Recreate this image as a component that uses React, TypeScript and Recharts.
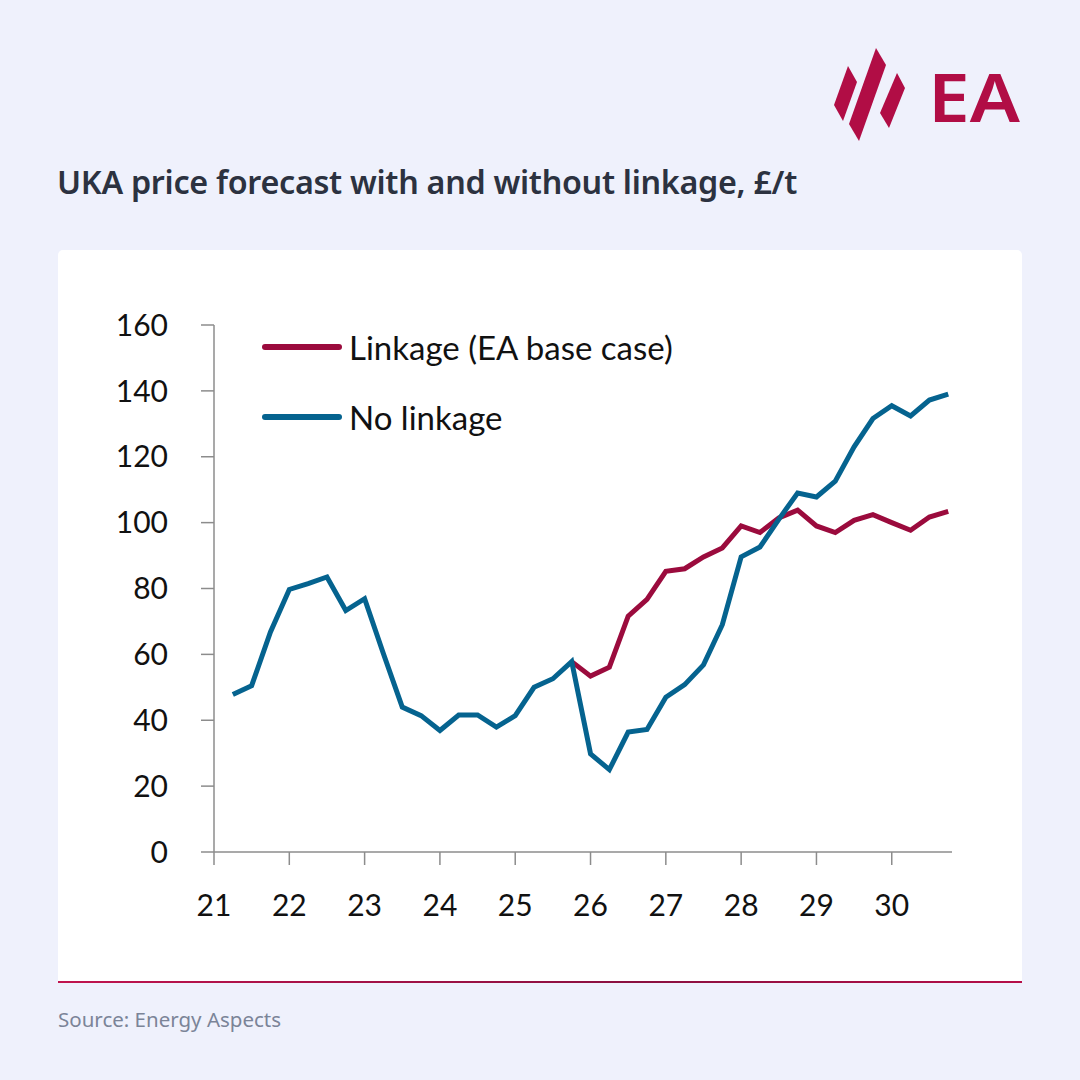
import React from "react";
import { LineChart, Line, XAxis, YAxis, Legend } from "recharts";

// quarterly points, x = year offset (21 = 2021)
const quarters = [
  21.25, 21.5, 21.75, 22, 22.25, 22.5, 22.75, 23, 23.25, 23.5, 23.75, 24, 24.25,
  24.5, 24.75, 25, 25.25, 25.5, 25.75, 26, 26.25, 26.5, 26.75, 27, 27.25, 27.5,
  27.75, 28, 28.25, 28.5, 28.75, 29, 29.25, 29.5, 29.75, 30, 30.25, 30.5, 30.75,
];

const noLinkage = [
  47.8, 50.5, 66.8, 79.7, 81.5, 83.5, 73.3, 76.9, 60.2, 44, 41.4, 36.9, 41.6,
  41.6, 37.9, 41.4, 50, 52.6, 57.8, 29.8, 25, 36.4, 37.2, 47, 50.8, 56.8, 69,
  89.6, 92.6, 101, 109, 107.8, 112.6, 123, 131.6, 135.5, 132.4, 137.2, 139,
];

// linkage scenario diverges from 25.75 onwards
const linkage = [
  null, null, null, null, null, null, null, null, null, null, null, null, null,
  null, null, null, null, null, 57.8, 53.4, 56.1, 71.6, 76.7, 85.2, 86, 89.6,
  92.3, 99, 97, 101.4, 103.8, 99, 97, 100.7, 102.4, 100, 97.7, 101.7, 103.4,
];

const xTicks = [21, 22, 23, 24, 25, 26, 27, 28, 29, 30];
const yTicks = [0, 20, 40, 60, 80, 100, 120, 140, 160];

const RED = "#9b0b3d";
const BLUE = "#05638f";
const AXIS = "#8c8c8c";
const TICK_FONT = "Lato, 'Noto Sans', sans-serif";

const data = quarters.map((q, i) => ({ q, linkage: linkage[i], noLinkage: noLinkage[i] }));

const legendItems = [
  { label: "Linkage (EA base case)", color: RED },
  { label: "No linkage", color: BLUE },
];

function ChartLegend() {
  return (
    <div style={{ fontFamily: TICK_FONT }}>
      {legendItems.map((it) => (
        <div key={it.label} style={{ display: "flex", alignItems: "center", height: 70 }}>
          <svg width={82} height={10} style={{ marginRight: 6 }}>
            <line x1={4} y1={5} x2={78} y2={5} stroke={it.color} strokeWidth={6} strokeLinecap="round" />
          </svg>
          <span style={{ fontSize: 33, color: "#111" }}>{it.label}</span>
        </div>
      ))}
    </div>
  );
}

function Logo() {
  return (
    <svg width={200} height={110} style={{ position: "absolute", left: 828, top: 40 }}>
      <g fill="#b10d45" transform="translate(-828,-40)">
        <polygon points="848,66 857,82 843,121 834,105" />
        <polygon points="876,48 886,65 859,141 849,124" />
        <polygon points="897,73 905,88 889,128 880,113" />
      </g>
      <text
        x={100}
        y={82}
        fontFamily="'Noto Sans', sans-serif"
        fontWeight={600}
        fontSize={66}
        fill="#b10d45"
        textLength={92}
        lengthAdjust="spacingAndGlyphs"
      >
        EA
      </text>
    </svg>
  );
}

export default function App() {
  return (
    <div
      style={{
        position: "absolute",
        left: 0,
        top: 0,
        width: 1080,
        height: 1080,
        background: "#eff1fc",
        overflow: "hidden",
        fontFamily: "'Noto Sans', sans-serif",
      }}
    >
      <Logo />
      <div
        style={{
          position: "absolute",
          left: 57,
          top: 159,
          fontSize: 32.3,
          fontWeight: 600,
          color: "#2c3240",
          letterSpacing: -0.3,
        }}
      >
        UKA price forecast with and without linkage, £/t
      </div>
      <div
        style={{
          position: "absolute",
          left: 58,
          top: 250,
          width: 964,
          height: 732,
          background: "#fff",
          borderRadius: "5px 5px 0 0",
        }}
      />
      <div
        style={{
          position: "absolute",
          left: 58,
          top: 981,
          width: 964,
          height: 2,
          background: "linear-gradient(90deg, #c0144e, #8a1040 60%, #b50f48)",
        }}
      />
      <div style={{ position: "absolute", left: 58, top: 1005, fontSize: 20.5, color: "#7b8498" }}>
        Source: Energy Aspects
      </div>
      <div style={{ position: "absolute", left: 0, top: 0 }}>
        <LineChart width={1080} height={1080} data={data} margin={{ top: 325, right: 128, left: 114, bottom: 168 }}>
          <XAxis
            dataKey="q"
            type="number"
            domain={[21, 30.8]}
            ticks={xTicks}
            interval={0}
            height={60}
            stroke={AXIS}
            strokeWidth={1.5}
            tickSize={13}
            tickMargin={30}
            tick={{ fill: "#111", fontSize: 30, fontFamily: TICK_FONT }}
          />
          <YAxis
            type="number"
            domain={[0, 160]}
            ticks={yTicks}
            interval={0}
            width={100}
            stroke={AXIS}
            strokeWidth={1.5}
            tickSize={13}
            tickMargin={33}
            tick={{ fill: "#111", fontSize: 30, fontFamily: TICK_FONT }}
          />
          <Legend
            layout="horizontal"
            verticalAlign="middle"
            align="center"
            content={() => <ChartLegend />}
            wrapperStyle={{ position: "absolute", left: 261, top: 312, width: 500, height: 140 }}
          />
          <Line
            dataKey="linkage"
            name="Linkage (EA base case)"
            stroke={RED}
            strokeWidth={5}
            dot={false}
            activeDot={false}
            type="linear"
            isAnimationActive={false}
          />
          <Line
            dataKey="noLinkage"
            name="No linkage"
            stroke={BLUE}
            strokeWidth={5}
            dot={false}
            activeDot={false}
            type="linear"
            isAnimationActive={false}
          />
        </LineChart>
      </div>
    </div>
  );
}
